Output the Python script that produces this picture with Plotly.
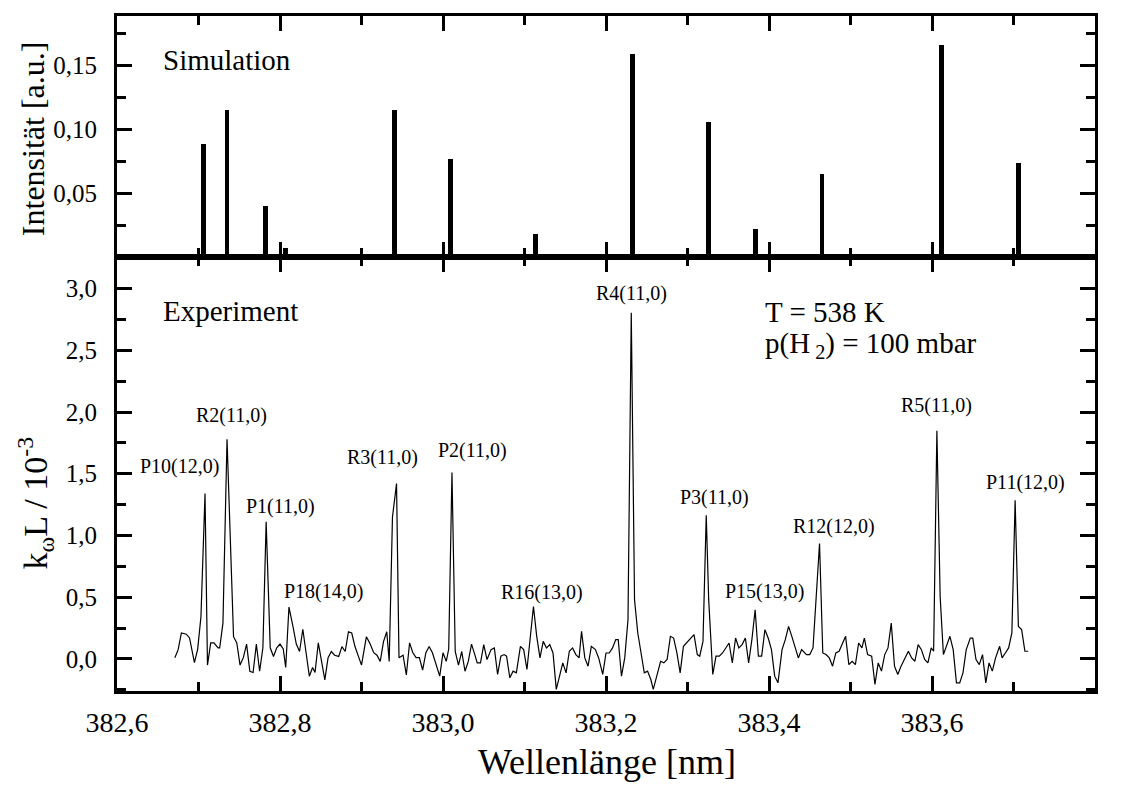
import plotly.graph_objects as go

# ---------------- data ----------------
sim_wl = [382.706, 382.735, 382.782, 382.807, 382.941, 383.009, 383.113,
          383.2325, 383.326, 383.383, 383.465, 383.612, 383.706]
sim_int = [0.089, 0.115, 0.040, 0.007, 0.115, 0.077, 0.018,
           0.159, 0.106, 0.022, 0.065, 0.166, 0.074]

exp_wl = [
    382.671, 382.675, 382.679, 382.685, 382.689, 382.695, 382.699, 382.703, 382.708, 382.711,
    382.715, 382.719, 382.724, 382.726, 382.730, 382.735, 382.743, 382.747, 382.751, 382.755,
    382.759, 382.763, 382.767, 382.771, 382.775, 382.779, 382.783, 382.788, 382.792, 382.796,
    382.800, 382.804, 382.807, 382.811, 382.816, 382.820, 382.824, 382.828, 382.832, 382.836,
    382.840, 382.843, 382.847, 382.851, 382.855, 382.859, 382.863, 382.867, 382.872, 382.876,
    382.880, 382.884, 382.888, 382.892, 382.896, 382.900, 382.906, 382.910, 382.915, 382.919,
    382.923, 382.927, 382.931, 382.934, 382.938, 382.943, 382.946, 382.951, 382.955, 382.959,
    382.963, 382.967, 382.971, 382.975, 382.979, 382.983, 382.987, 382.991, 382.996, 383.000,
    383.004, 383.007, 383.011, 383.015, 383.019, 383.023, 383.027, 383.031, 383.035, 383.039,
    383.042, 383.046, 383.050, 383.054, 383.059, 383.063, 383.067, 383.071, 383.075, 383.078,
    383.082, 383.086, 383.090, 383.095, 383.099, 383.103, 383.107, 383.111, 383.115, 383.119,
    383.123, 383.127, 383.131, 383.135, 383.139, 383.143, 383.147, 383.151, 383.155, 383.159,
    383.163, 383.167, 383.170, 383.174, 383.178, 383.182, 383.187, 383.191, 383.196, 383.200,
    383.204, 383.208, 383.212, 383.215, 383.219, 383.223, 383.227, 383.231, 383.235, 383.239,
    383.243, 383.247, 383.251, 383.255, 383.258, 383.263, 383.267, 383.271, 383.275, 383.279,
    383.283, 383.287, 383.291, 383.295, 383.299, 383.304, 383.308, 383.312, 383.315, 383.319,
    383.323, 383.326, 383.331, 383.335, 383.339, 383.343, 383.347, 383.351, 383.355, 383.359,
    383.363, 383.367, 383.371, 383.375, 383.379, 383.383, 383.387, 383.391, 383.395, 383.399,
    383.403, 383.407, 383.411, 383.416, 383.420, 383.424, 383.428, 383.432, 383.436, 383.440,
    383.442, 383.446, 383.450, 383.454, 383.462, 383.466, 383.470, 383.474, 383.478, 383.482,
    383.486, 383.490, 383.494, 383.498, 383.502, 383.506, 383.510, 383.514, 383.517, 383.521,
    383.526, 383.530, 383.534, 383.538, 383.542, 383.546, 383.550, 383.554, 383.558, 383.562,
    383.566, 383.571, 383.575, 383.579, 383.583, 383.587, 383.591, 383.595, 383.599, 383.602,
    383.606, 383.610, 383.614, 383.618, 383.622, 383.626, 383.630, 383.634, 383.638, 383.642,
    383.647, 383.650, 383.654, 383.658, 383.662, 383.666, 383.670, 383.674, 383.678, 383.683,
    383.686, 383.690, 383.694, 383.698, 383.702, 383.706, 383.710, 383.714, 383.718,
]
exp_val = [
    0.01, 0.075, 0.21, 0.20, 0.17, -0.03, 0.08, 0.34, 1.34, -0.05,
    0.13, 0.13, 0.09, 0.09, 0.29, 1.78, 0.18, 0.13, -0.05, 0.01,
    0.12, -0.10, -0.11, 0.12, -0.10, 0.09, 1.11, 0.09, 0.02, 0.09,
    0.12, 0.08, -0.07, 0.42, 0.26, 0.12, 0.06, 0.24, 0.05, -0.14,
    -0.07, -0.11, 0.13, -0.02, -0.17, 0.01, 0.06, 0.03, 0.02, 0.10,
    0.06, 0.22, 0.21, 0.10, 0.02, -0.05, 0.18, 0.13, 0.05, 0.03,
    -0.02, 0.14, 0.22, -0.02, 1.15, 1.42, 0.01, 0.03, -0.13, 0.13,
    0.05, 0.01, 0.01, -0.09, 0.05, 0.10, 0.05, -0.03, -0.14, 0.05,
    -0.02, 0.08, 1.51, 0.06, -0.05, 0.06, -0.10, -0.02, 0.12, 0.035,
    -0.032, -0.032, 0.116, -0.005, 0.075, 0.089, -0.126, 0.022, 0.035, 0.022,
    -0.153, -0.099, -0.113, 0.102, 0.075, -0.086, 0.183, 0.425, 0.183, 0.008,
    0.142, 0.089, 0.116, 0.048, -0.247, -0.126, -0.032, -0.113, 0.062, 0.089,
    0.035, 0.008, 0.223, 0.008, -0.059, 0.102, 0.075, 0.008, -0.126, 0.048,
    0.048, 0.089, 0.156, 0.156, -0.140, 0.008, 0.317, 2.804, 0.478, 0.210,
    0.062, -0.113, -0.099, -0.167, -0.247, -0.113, -0.019, -0.032, -0.005, 0.183,
    0.169, 0.048, -0.113, 0.102, 0.129, 0.169, 0.196, 0.035, 0.022, 0.142,
    1.164, 0.478, -0.126, 0.022, 0.022, 0.048, 0.089, 0.129, -0.032, 0.169,
    0.089, 0.116, 0.169, -0.032, 0.156, 0.398, 0.022, 0.022, 0.237, 0.169,
    0.075, -0.140, -0.194, 0.075, 0.156, 0.263, 0.183, 0.089, 0.008, 0.075,
    0.062, 0.035, 0.035, 0.089, 0.935, 0.048, 0.035, 0.008, -0.059, 0.048,
    0.062, 0.116, 0.183, -0.046, -0.019, -0.046, 0.129, 0.089, 0.169, 0.035,
    0.022, -0.207, -0.032, -0.099, 0.035, 0.089, 0.290, -0.059, -0.126, -0.059,
    -0.005, 0.062, 0.008, -0.019, 0.116, 0.075, -0.005, -0.032, 0.089, 0.062,
    1.849, 0.505, 0.035, 0.116, 0.183, 0.075, -0.194, -0.194, -0.113, 0.075,
    0.169, 0.169, -0.005, -0.046, 0.035, -0.194, -0.032, -0.099, 0.008, 0.102,
    0.008, 0.048, 0.089, 0.210, 1.285, 0.263, 0.237, 0.062, 0.062,
]

peak_labels = ["P10(12,0)", "R2(11,0)", "P1(11,0)", "P18(14,0)", "R3(11,0)", "P2(11,0)",
               "R16(13,0)", "R4(11,0)", "P3(11,0)", "P15(13,0)", "R12(12,0)", "R5(11,0)",
               "P11(12,0)"]
label_x = [382.677, 382.740, 382.801, 382.853, 382.926, 383.036,
           383.122, 383.2315, 383.333, 383.395, 383.480, 383.606, 383.715]
label_y = [1.56, 1.97, 1.236, 0.545, 1.634, 1.69,
           0.537, 2.957, 1.311, 0.545, 1.075, 2.05, 1.427]

x_ticks = [382.6, 382.8, 383.0, 383.2, 383.4, 383.6, 383.8]
y_ticks_exp = [0.0, 0.5, 1.0, 1.5, 2.0, 2.5, 3.0]
y_ticks_sim = [0.05, 0.10, 0.15]

FONT = "Times New Roman, Liberation Serif, Tinos, serif"

fig = go.Figure()
fig.add_trace(go.Scatter(x=exp_wl, y=exp_val, mode="lines",
                         line=dict(color="black", width=1.2),
                         xaxis="x", yaxis="y", showlegend=False))
fig.add_trace(go.Bar(x=sim_wl, y=sim_int, width=0.006,
                     marker=dict(color="black", line=dict(width=0)),
                     xaxis="x2", yaxis="y2", showlegend=False))

axis_common = dict(showline=True, linewidth=3, linecolor="black", mirror="ticks",
                   ticks="inside", ticklen=15, tickwidth=2.5, tickcolor="black",
                   showgrid=False, zeroline=False)

# page body has an 8px margin: shrink the figure so it ends at 1125x785
fig.update_layout(
    width=1117, height=777,
    margin=dict(l=109, r=30, t=5, b=94),
    paper_bgcolor="white", plot_bgcolor="white",
    separators=",.",
    font=dict(family=FONT, color="black"),
    bargap=0,
    xaxis=dict(domain=[0, 1], anchor="y", range=[382.6, 383.8],
               tickmode="array", tickvals=x_ticks, tickformat=".1f",
               tickfont=dict(family=FONT, size=28), ticklabelstandoff=4,
               minor=dict(dtick=0.1, tick0=382.6, ticks="inside", ticklen=9,
                          tickwidth=2.5, tickcolor="black"),
               **axis_common),
    yaxis=dict(domain=[0, 0.643], anchor="x", range=[-0.26, 3.256],
               tickmode="array", tickvals=y_ticks_exp, tickformat=".1f",
               tickfont=dict(family=FONT, size=25), ticklabelstandoff=12,
               minor=dict(dtick=0.25, tick0=0, ticks="inside", ticklen=9,
                          tickwidth=2.5, tickcolor="black"),
               **axis_common),
    xaxis2=dict(domain=[0, 1], anchor="y2", matches="x", range=[382.6, 383.8],
                showticklabels=False, tickmode="array", tickvals=x_ticks,
                minor=dict(dtick=0.1, tick0=382.6, ticks="inside", ticklen=9,
                           tickwidth=2.5, tickcolor="black"),
                **axis_common),
    yaxis2=dict(domain=[0.643, 1], anchor="x2", range=[0, 0.189],
                tickmode="array", tickvals=y_ticks_sim, tickformat=".2f",
                tickfont=dict(family=FONT, size=25), ticklabelstandoff=12,
                minor=dict(tickmode="linear", dtick=0.025, tick0=0, ticks="inside",
                           ticklen=9, tickwidth=2.5, tickcolor="black"),
                **axis_common),
)

annotations = []
for txt, lx, ly in zip(peak_labels, label_x, label_y):
    annotations.append(dict(x=lx, y=ly, xref="x", yref="y", text=txt, showarrow=False,
                            xanchor="center", yanchor="middle",
                            font=dict(family=FONT, size=20, color="black")))

annotations += [
    dict(x=382.654, y=2.817, xref="x", yref="y", text="Experiment", showarrow=False,
         xanchor="left", yanchor="middle", font=dict(family=FONT, size=29)),
    dict(x=382.654, y=0.1542, xref="x2", yref="y2", text="Simulation", showarrow=False,
         xanchor="left", yanchor="middle", font=dict(family=FONT, size=29)),
    dict(x=383.393, y=2.81, xref="x", yref="y", text="T = 538 K", showarrow=False,
         xanchor="left", yanchor="middle", font=dict(family=FONT, size=29)),
    dict(x=383.393, y=2.54, xref="x", yref="y", text="p(H<sub> 2</sub>) = 100 mbar",
         showarrow=False, xanchor="left", yanchor="middle", font=dict(family=FONT, size=29)),
    dict(x=0.501, y=-0.105, xref="paper", yref="paper", text="Wellenlänge [nm]",
         showarrow=False, xanchor="center", yanchor="middle", font=dict(family=FONT, size=36)),
    dict(x=-0.0859, y=0.819, xref="paper", yref="paper", text="Intensität [a.u.]",
         showarrow=False, textangle=-90, xanchor="center", yanchor="middle",
         font=dict(family=FONT, size=32)),
    dict(x=-0.0838, y=0.278, xref="paper", yref="paper",
         text="k<sub>ω</sub>L / 10<sup>-3</sup>",
         showarrow=False, textangle=-90, xanchor="center", yanchor="middle",
         font=dict(family=FONT, size=34)),
]
fig.update_layout(annotations=annotations)

fig.write_html("out.html")
